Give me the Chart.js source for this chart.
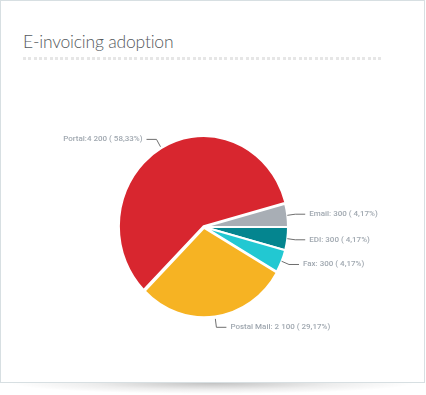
<!DOCTYPE html>
<html>
<head>
<meta charset="utf-8">
<script src="https://cdn.jsdelivr.net/npm/chart.js@4"></script>
<style>
  html, body { margin: 0; padding: 0; background: #fff; width: 426px; height: 395px; overflow: hidden; }
  .card { position: absolute; left: 0; top: 0; width: 425px; height: 383px; box-sizing: border-box;
          border: 1px solid #d7dfe2; background: #fff; }
  .shadow { position: absolute; left: 10px; top: 383px; width: 405px; height: 11px;
            background: radial-gradient(ellipse 50% 100% at 50% 0%, rgba(0,0,0,0.24), rgba(0,0,0,0.07) 60%, rgba(0,0,0,0) 100%); }
  .title { position: absolute; left: 23px; top: 31px; font-family: Lato, "Open Sans", sans-serif; font-weight: 300;
           font-size: 17.5px; letter-spacing: -0.2px; color: #555a5e; white-space: nowrap; line-height: 22px; }
  .dots { position: absolute; left: 23px; top: 57px; width: 360px; height: 3px;
          background: repeating-linear-gradient(to right, #e6e6e6 0, #e6e6e6 3px, transparent 3px, transparent 5.3px); }
  canvas { position: absolute; left: 0; top: 0; }
</style>
</head>
<body>
<div class="shadow"></div>
<div class="card"></div>
<div class="title">E-invoicing adoption</div>
<div class="dots"></div>
<canvas id="c" width="426" height="395"></canvas>
<script>
const categories = ['Portal', 'Email', 'EDI', 'Fax', 'Postal Mail'];
const separators = [':', ': ', ': ', ': ', ': '];
const values = [4200, 300, 300, 300, 2100];
const colors = ['#d8262f', '#a8aeb5', '#04858f', '#22c8d2', '#f6b323'];
const offsets = [3, 0, 0, 0, 3];

const total = values.reduce((a, b) => a + b, 0);
function fmtValue(v) { return String(v).replace(/\B(?=(\d{3})+(?!\d))/g, ' '); }
function fmtPct(v) { return (v / total * 100).toFixed(2).replace('.', ','); }
const labelTexts = values.map((v, i) => categories[i] + separators[i] + fmtValue(v) + ' ( ' + fmtPct(v) + '%)');

const SY = 1.065; // vertical stretch of the pie

const stretchPlugin = {
  id: 'stretch',
  beforeDatasetsDraw(chart) {
    const arc = chart.getDatasetMeta(0).data[0];
    const ctx = chart.ctx;
    ctx.save();
    ctx.translate(arc.x, arc.y);
    ctx.scale(1, SY);
    ctx.translate(-arc.x, -arc.y);
  },
  afterDatasetsDraw(chart) {
    chart.ctx.restore();
  }
};

const labelPlugin = {
  id: 'pieLabels',
  afterDraw(chart) {
    const ctx = chart.ctx;
    const meta = chart.getDatasetMeta(0);
    ctx.save();
    ctx.font = '500 8px Roboto';
    ctx.textBaseline = 'middle';
    meta.data.forEach((arc, i) => {
      const mid = (arc.startAngle + arc.endAngle) / 2;
      const off = offsets[i];
      const r0 = arc.outerRadius + off;
      const r1 = r0 + 8;
      const cx = arc.x, cy = arc.y;
      const c = Math.cos(mid), s = Math.sin(mid);
      const p0 = [cx + r0 * c, cy + r0 * s * SY];
      const p1 = [cx + r1 * c, cy + r1 * s * SY];
      const dir = c >= 0 ? 1 : -1;
      const p2 = [p1[0] + dir * 10, p1[1]];
      ctx.strokeStyle = '#6f6f6f';
      ctx.lineWidth = 1;
      ctx.beginPath();
      ctx.moveTo(p0[0], p0[1]);
      ctx.lineTo(p1[0], p1[1]);
      ctx.lineTo(p2[0], p2[1]);
      ctx.stroke();
      ctx.fillStyle = '#a0a8b0';
      ctx.textAlign = dir > 0 ? 'left' : 'right';
      ctx.fillText(labelTexts[i], p2[0] + dir * 4, p1[1]);
    });
    ctx.restore();
  }
};

new Chart(document.getElementById('c'), {
  type: 'pie',
  data: {
    labels: categories,
    datasets: [{
      data: values,
      backgroundColor: colors,
      borderColor: '#ffffff',
      borderWidth: 2,
      offset: offsets,
      radius: 84,
      hoverOffset: 0
    }]
  },
  options: {
    responsive: false,
    animation: false,
    rotation: 225,
    layout: { padding: { left: 104, right: 122, top: 127, bottom: 68 } },
    plugins: { legend: { display: false }, tooltip: { enabled: false } },
    events: []
  },
  plugins: [stretchPlugin, labelPlugin]
});
</script>
</body>
</html>
